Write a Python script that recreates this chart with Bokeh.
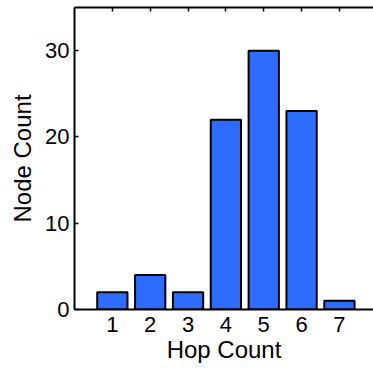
from bokeh.plotting import figure
from bokeh.models import Range1d, LinearAxis, FixedTicker, ColumnDataSource
from bokeh.embed import file_html
from bokeh.resources import INLINE

hops = [1, 2, 3, 4, 5, 6, 7]
node_counts = [2, 4, 2, 22, 30, 23, 1]
y_ticks = [0, 10, 20, 30]

FONT = "Liberation Sans"
BAR_COLOR = "#2E6CFF"

src = ColumnDataSource(data=dict(x=hops, top=node_counts))

p = figure(frame_width=299, frame_height=302, output_backend="svg", toolbar_location=None,
           x_range=Range1d(0, 7.9), y_range=Range1d(0, 35),
           min_border_left=74, min_border_top=7, min_border_right=0, min_border_bottom=59,
           x_axis_label="Hop Count", y_axis_label="Node Count")
p.outline_line_color = None
p.grid.visible = False
p.background_fill_color = "white"
p.border_fill_color = "white"

p.vbar(x="x", top="top", bottom=0, width=0.8, source=src,
       fill_color=BAR_COLOR, line_color="black", line_width=2)

for ax in (p.xaxis[0], p.yaxis[0]):
    ax.axis_line_width = 2
    ax.axis_line_color = "black"
    ax.major_tick_line_width = 1.5
    ax.major_tick_out = 0
    ax.minor_tick_in = 0
    ax.minor_tick_out = 0
    ax.major_label_text_font = FONT
    ax.major_label_text_font_size = "22px"
    ax.major_label_text_color = "black"
    ax.axis_label_text_font = FONT
    ax.axis_label_text_font_size = "24px"
    ax.axis_label_text_font_style = "normal"
    ax.axis_label_text_color = "black"

p.xaxis[0].ticker = FixedTicker(ticks=hops)
p.xaxis[0].major_tick_in = 0
p.xaxis[0].major_label_standoff = 7
p.xaxis[0].axis_label_standoff = 1

p.yaxis[0].ticker = FixedTicker(ticks=y_ticks)
p.yaxis[0].major_tick_in = 4
p.yaxis[0].major_label_standoff = 5
p.yaxis[0].axis_label_standoff = 6

top = LinearAxis(ticker=FixedTicker(ticks=hops), axis_line_width=2, axis_line_color="black",
                 major_tick_in=4, major_tick_out=0, major_tick_line_width=1.5,
                 minor_tick_in=0, minor_tick_out=0,
                 major_label_overrides={h: "" for h in hops}, major_label_standoff=0)
p.add_layout(top, "above")

open("out.html", "w").write(file_html(p, INLINE))
